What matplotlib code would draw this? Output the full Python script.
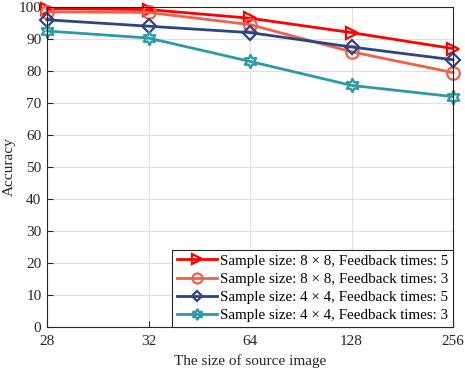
import matplotlib
matplotlib.use('Agg')
import matplotlib.pyplot as plt

plt.rcParams['font.family'] = ['Liberation Serif', 'DejaVu Serif']

sizes = ['28', '32', '64', '128', '256']
acc_8x8_fb5 = [99.5, 99.2, 96.5, 92.0, 87.0]
acc_8x8_fb3 = [98.5, 98.3, 94.5, 86.0, 79.5]
acc_4x4_fb5 = [96.0, 94.0, 92.0, 87.5, 83.5]
acc_4x4_fb3 = [92.5, 90.3, 83.0, 75.5, 72.0]
labels = ['Sample size: 8 \u00d7 8, Feedback times: 5',
          'Sample size: 8 \u00d7 8, Feedback times: 3',
          'Sample size: 4 \u00d7 4, Feedback times: 5',
          'Sample size: 4 \u00d7 4, Feedback times: 3']

fig = plt.figure(figsize=(4.65, 3.7), dpi=100)
ax = fig.add_axes([47/465, 43/370, 406/465, 320/370])

x = range(len(sizes))
series = [acc_8x8_fb5, acc_8x8_fb3, acc_4x4_fb5, acc_4x4_fb3]
colors = ['#ff0000', '#f0604a', '#2d4580', '#2e9aa2']
markers = ['>', 'o', 'D', (6, 1, 0)]
msizes = [9, 9, 7, 10]
for ys, c, m, ms, lab in zip(series, colors, markers, msizes, labels):
    ax.plot(x, ys, color=c, lw=2, marker=m, ms=ms, mfc='none', mew=1.6, label=lab,
            clip_on=False)

ax.set_xlim(0, 4)
ax.set_ylim(0, 100)
ax.set_xticks(list(x))
ax.set_xticklabels(sizes)
ax.set_yticks(range(0, 101, 10))
ax.grid(True, color='#e0e0e0', lw=0.8)
ax.set_axisbelow(True)
for s in ax.spines.values():
    s.set_color('#262626')
    s.set_linewidth(0.8)
ax.tick_params(direction='in', labelsize=11, colors='#262626', length=4, pad=4)
ax.tick_params(axis='x', pad=6)
ax.set_xlabel('The size of source image', fontsize=11, color='#262626', labelpad=4)
ax.set_ylabel('Accuracy', fontsize=11, color='#262626')
ax.yaxis.set_label_coords(-31/406, 0.5)

leg = ax.legend(loc='lower right', fontsize=10.8, fancybox=False, framealpha=1,
                edgecolor='#262626', handlelength=2.7, borderpad=0.3,
                labelspacing=0.32, handletextpad=0.2, borderaxespad=0.0,
                markerscale=0.8)
leg.get_frame().set_linewidth(0.8)

fig.savefig('out.png', dpi=100)
